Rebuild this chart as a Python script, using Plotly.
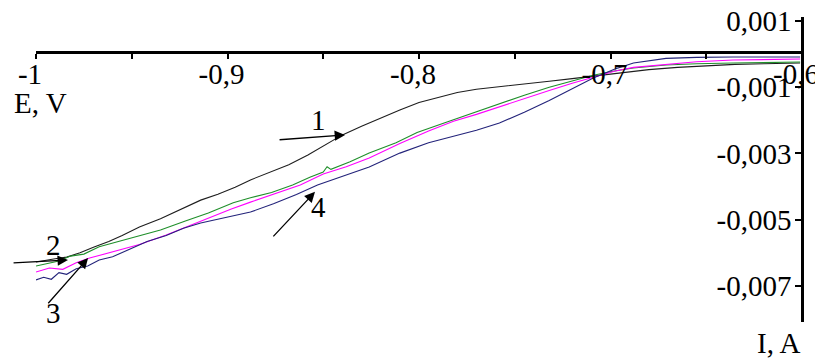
import plotly.graph_objects as go

# curve 1 (black)
e1 = [-1.000, -0.995, -0.990, -0.984, -0.977, -0.970, -0.962, -0.955, -0.946, -0.935,
      -0.925, -0.914, -0.905, -0.896, -0.888, -0.878, -0.868, -0.858, -0.848, -0.840,
      -0.830, -0.820, -0.810, -0.800, -0.790, -0.780, -0.770, -0.758, -0.745, -0.732,
      -0.720, -0.709, -0.695, -0.680, -0.665, -0.650, -0.635, -0.620, -0.601]
i1 = [-0.00628, -0.00622, -0.00618, -0.00613, -0.00600, -0.00583, -0.00566, -0.00548, -0.00522, -0.00497,
      -0.00470, -0.00441, -0.00423, -0.00402, -0.00380, -0.00358, -0.00334, -0.00305, -0.00272, -0.00244,
      -0.00218, -0.00193, -0.00169, -0.00146, -0.00130, -0.00116, -0.00106, -0.00099, -0.00090, -0.00082,
      -0.00074, -0.00066, -0.00056, -0.00047, -0.00040, -0.00035, -0.00031, -0.00029, -0.00027]

# curve 2 (green)
e2 = [-1.000, -0.994, -0.988, -0.982, -0.975, -0.967, -0.958, -0.948, -0.935, -0.922,
      -0.910, -0.897, -0.888, -0.877, -0.866, -0.857, -0.850, -0.848, -0.846, -0.836,
      -0.826, -0.812, -0.801, -0.785, -0.770, -0.758, -0.745, -0.732, -0.720, -0.709,
      -0.698, -0.688, -0.671, -0.655, -0.636, -0.620, -0.601]
i2 = [-0.00640, -0.00632, -0.00625, -0.00610, -0.00604, -0.00582, -0.00568, -0.00552, -0.00531, -0.00504,
      -0.00480, -0.00449, -0.00434, -0.00418, -0.00395, -0.00372, -0.00356, -0.00340, -0.00348, -0.00325,
      -0.00299, -0.00268, -0.00237, -0.00204, -0.00174, -0.00148, -0.00124, -0.00100, -0.00082, -0.00064,
      -0.00051, -0.00042, -0.00033, -0.00029, -0.00027, -0.00025, -0.00024]

# curve 3 (magenta)
e3 = [-1.000, -0.993, -0.986, -0.979, -0.972, -0.964, -0.955, -0.946, -0.932, -0.920,
      -0.908, -0.898, -0.888, -0.875, -0.862, -0.850, -0.838, -0.826, -0.810, -0.795,
      -0.782, -0.770, -0.758, -0.745, -0.732, -0.720, -0.709, -0.698, -0.688, -0.670,
      -0.655, -0.636, -0.620, -0.601]
i3 = [-0.00658, -0.00646, -0.00650, -0.00630, -0.00616, -0.00604, -0.00590, -0.00575, -0.00546, -0.00518,
      -0.00492, -0.00468, -0.00447, -0.00422, -0.00395, -0.00362, -0.00340, -0.00314, -0.00270, -0.00232,
      -0.00203, -0.00182, -0.00160, -0.00134, -0.00110, -0.00088, -0.00069, -0.00052, -0.00040, -0.00030,
      -0.00023, -0.00018, -0.00016, -0.00015]

# curve 4 (navy)
e4 = [-1.000, -0.996, -0.992, -0.988, -0.984, -0.979, -0.973, -0.967, -0.960, -0.951,
      -0.942, -0.932, -0.923, -0.914, -0.903, -0.888, -0.876, -0.864, -0.853, -0.840,
      -0.826, -0.810, -0.795, -0.780, -0.770, -0.758, -0.745, -0.732, -0.720, -0.709,
      -0.698, -0.688, -0.671, -0.655, -0.636, -0.601]
i4 = [-0.00682, -0.00674, -0.00680, -0.00660, -0.00665, -0.00648, -0.00640, -0.00622, -0.00612, -0.00588,
      -0.00566, -0.00548, -0.00526, -0.00510, -0.00497, -0.00477, -0.00452, -0.00424, -0.00395, -0.00370,
      -0.00341, -0.00299, -0.00268, -0.00245, -0.00230, -0.00208, -0.00176, -0.00140, -0.00105, -0.00072,
      -0.00046, -0.00027, -0.00013, -0.00010, -0.00009, -0.00009]

x_tick_vals = [-1.0, -0.95, -0.9, -0.85, -0.8, -0.75, -0.7, -0.65, -0.6]
x_tick_text = ['-1', '', '-0,9', '', '-0,8', '', '-0,7', '', '-0,6']
y_tick_vals = [0.001, -0.001, -0.003, -0.005, -0.007]
y_tick_text = ['0,001', '-0,001', '-0,003', '-0,005', '-0,007']

# curve number labels: (text, label E, label I, head E, head I, tail E, tail I)
marks = [
    ('1', -0.8527, -0.00199, -0.8386, -0.00244, -0.8736, -0.00259),
    ('2', -0.9911, -0.00576, -0.9833, -0.00622, -1.0125, -0.00631),
    ('3', -0.9911, -0.00782, -0.9728, -0.00616, -0.9943, -0.00757),
    ('4', -0.8527, -0.00462, -0.8543, -0.00416, -0.8768, -0.00555),
]

FONT = 'Liberation Serif'
FS = 29
OFF = 8  # page body margin of the browser
W, H = 823 - OFF, 358 - OFF
L, R, T, B = 36, 802, 17, 322  # plot area in window pixels


def px(xp, yp):
    return (xp - L) / (R - L), (B - yp) / (B - T)


fig = go.Figure()
for e, i, c in [(e1, i1, '#1e1e1e'), (e2, i2, '#1f8f2a'), (e3, i3, '#ff00ff'), (e4, i4, '#23237a')]:
    fig.add_trace(go.Scatter(x=e, y=i, mode='lines', line=dict(color=c, width=1.1),
                             showlegend=False, hoverinfo='skip'))

for txt, lx, ly, hx, hy, tx, ty in marks:
    fig.add_annotation(x=hx, y=hy, ax=tx, ay=ty, xref='x', yref='y', axref='x', ayref='y',
                       text='', showarrow=True, arrowhead=2, arrowsize=1.6, arrowwidth=1.3,
                       arrowcolor='black', standoff=0)
    fig.add_annotation(x=lx, y=ly, xref='x', yref='y', text=txt, showarrow=False,
                       font=dict(family=FONT, size=FS, color='black'))

ex, ey = px(40, 103)
fig.add_annotation(x=ex, y=ey, xref='paper', yref='paper', text='E, V', showarrow=False,
                   xanchor='center', yanchor='middle',
                   font=dict(family=FONT, size=FS, color='black'))
ix, iy = px(779, 343)
fig.add_annotation(x=ix, y=iy, xref='paper', yref='paper', text='I, A', showarrow=False,
                   xanchor='center', yanchor='middle',
                   font=dict(family=FONT, size=FS, color='black'))

fig.update_layout(
    width=W, height=H,
    margin=dict(l=L - OFF, r=W - (R - OFF), t=T - OFF, b=H - (B - OFF)),
    paper_bgcolor='white', plot_bgcolor='white',
    font=dict(family=FONT, size=FS, color='black'),
    xaxis=dict(range=[-1, -0.6], anchor='free', position=px(0, 52)[1], side='bottom',
               showline=True, linecolor='black', linewidth=2.5, automargin=False,
               tickvals=x_tick_vals, ticktext=x_tick_text, ticklabelshift=-6,
               ticklabelstandoff=-10, ticklabeloverflow='allow',
               ticks='outside', ticklen=5, tickwidth=1.5, tickcolor='black',
               showgrid=False, zeroline=False),
    yaxis=dict(range=[-0.00809, 0.00112], anchor='free', position=1, side='left',
               showline=True, linecolor='black', linewidth=2.5, automargin=False,
               tickvals=y_tick_vals, ticktext=y_tick_text, ticklabelstandoff=-2,
               ticklabeloverflow='allow',
               ticks='outside', ticklen=6, tickwidth=1.5, tickcolor='black',
               showgrid=False, zeroline=False),
)

fig.write_html('out.html')
